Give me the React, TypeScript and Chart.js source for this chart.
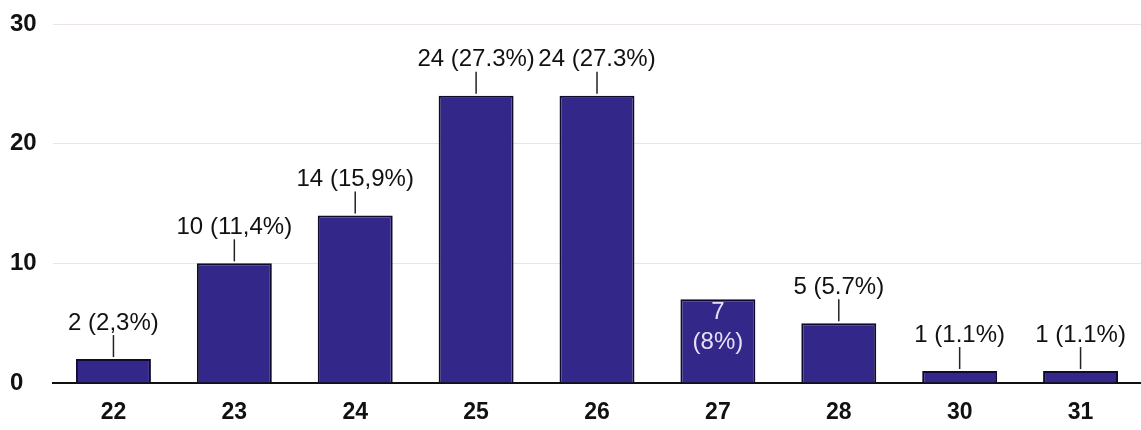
import React, { useEffect, useRef } from "react";
import { Chart, registerables } from "chart.js";

Chart.register(...registerables);

const categories = ["22", "23", "24", "25", "26", "27", "28", "30", "31"];
const counts = [2, 10, 14, 24, 24, 7, 5, 1, 1];
const percents = ["2,3%", "11,4%", "15,9%", "27.3%", "27.3%", "8%", "5.7%", "1.1%", "1.1%"];
const insideLabelIndex = [5];
const yTicks = [0, 10, 20, 30];

const FONT = "'Liberation Sans', Arial, sans-serif";

const labelPlugin = {
  id: "barLabels",
  afterDatasetsDraw(chart: any) {
    const ctx = chart.ctx;
    const meta = chart.getDatasetMeta(0);
    ctx.save();
    ctx.font = `24px ${FONT}`;
    ctx.textAlign = "center";
    ctx.textBaseline = "middle";
    meta.data.forEach((bar: any, i: number) => {
      const x = bar.x;
      const top = bar.y;
      if (insideLabelIndex.includes(i)) {
        ctx.fillStyle = "#e6e1f7";
        ctx.fillText(String(counts[i]), x, top + 13);
        ctx.fillText(`(${percents[i]})`, x, top + 43);
      } else {
        ctx.strokeStyle = "#222";
        ctx.lineWidth = 1.5;
        ctx.beginPath();
        ctx.moveTo(x, top - 2);
        ctx.lineTo(x, top - 24);
        ctx.stroke();
        ctx.fillStyle = "#111";
        ctx.fillText(`${counts[i]} (${percents[i]})`, x, top - 36);
      }
    });
    ctx.restore();
  },
};

export default function App() {
  const ref = useRef<HTMLCanvasElement>(null);
  useEffect(() => {
    document.body.style.margin = "0";
    document.body.style.background = "#fff";
    const chart = new Chart(ref.current!, {
      type: "bar",
      data: {
        labels: categories,
        datasets: [
          {
            data: counts,
            backgroundColor: "#33278a",
            borderColor: "#0e0b2e",
            borderWidth: 2,
            barPercentage: 0.62,
            categoryPercentage: 1,
          },
        ],
      },
      options: {
        animation: false,
        responsive: false,
        maintainAspectRatio: false,
        layout: { padding: { left: 10, right: 0, top: 24, bottom: 0 } },
        plugins: { legend: { display: false }, tooltip: { enabled: false } },
        scales: {
          x: {
            grid: { display: false },
            border: { color: "#111", width: 2 },
            afterFit(scale: any) {
              scale.height = 47;
            },
            ticks: {
              color: "#111",
              font: { family: FONT, size: 23, weight: "bold" },
              padding: 8,
            },
          },
          y: {
            min: 0,
            max: 30,
            afterFit(scale: any) {
              scale.width = 43;
            },
            afterBuildTicks(scale: any) {
              scale.ticks = yTicks.map((v) => ({ value: v }));
            },
            border: { display: false },
            grid: {
              color: "#ebe4e0",
              lineWidth: 1,
              drawTicks: false,
            },
            ticks: {
              color: "#111",
              crossAlign: "far",
              font: { family: FONT, size: 24, weight: "bold" },
              padding: 0,
            },
          },
        },
      },
      plugins: [labelPlugin],
    });
    return () => chart.destroy();
  }, []);
  return (
    <div style={{ width: 1141, height: 430 }}>
      <canvas ref={ref} width={1141} height={430} />
    </div>
  );
}
